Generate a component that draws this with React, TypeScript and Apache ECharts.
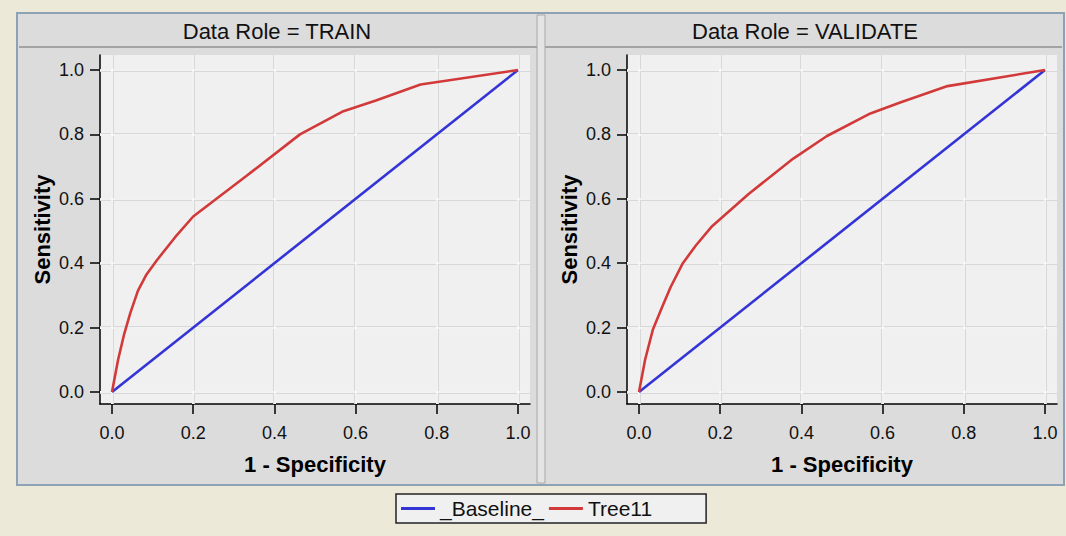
import React, { useEffect, useRef } from "react";
import * as echarts from "echarts";

const panelTitles = ["Data Role = TRAIN", "Data Role = VALIDATE"];
const tickValues = [0, 0.2, 0.4, 0.6, 0.8, 1.0];

const baselineX = [0, 1];
const baselineY = [0, 1];

const trainX = [0, 0.015, 0.03, 0.045, 0.064, 0.085, 0.111, 0.155, 0.2, 0.33, 0.463, 0.57, 0.65, 0.76, 1.0];
const trainY = [0, 0.1, 0.18, 0.245, 0.315, 0.365, 0.41, 0.48, 0.545, 0.67, 0.8, 0.872, 0.905, 0.955, 1.0];

const validateX = [0, 0.015, 0.034, 0.057, 0.078, 0.108, 0.14, 0.18, 0.27, 0.38, 0.463, 0.57, 0.645, 0.76, 1.0];
const validateY = [0, 0.1, 0.193, 0.264, 0.326, 0.4, 0.455, 0.515, 0.615, 0.725, 0.795, 0.865, 0.9, 0.95, 1.0];

const FONT = "'Liberation Sans', Arial, sans-serif";
const BLUE = "#3434D6";
const RED = "#D23A3A";

function pairs(xs: number[], ys: number[]) {
  return xs.map((x, i) => [x, ys[i]]);
}

export default function App() {
  const ref = useRef<HTMLDivElement>(null);
  useEffect(() => {
    if (!ref.current) return;
    const chart = echarts.init(ref.current, undefined, { renderer: "svg" });

    const gridLefts = [100, 627];
    const grids = gridLefts.map((l) => ({
      left: l,
      top: 55,
      width: 430,
      height: 349,
      show: true,
      backgroundColor: "#F0F0F0",
      borderWidth: 0,
    }));

    const xAxes = [0, 1].map((g) => ({
      type: "value",
      gridIndex: g,
      min: -12 / 406,
      max: 1 + 12 / 406,
      name: "1 - Specificity",
      nameLocation: "middle",
      nameGap: 49,
      nameTextStyle: { fontFamily: FONT, fontWeight: "bold", fontSize: 22, color: "#000" },
      axisLine: { show: true, onZero: false, lineStyle: { color: "#000", width: 1.5 } },
      axisTick: { show: true, length: 10, customValues: tickValues, lineStyle: { color: "#000", width: 1.5 } },
      axisLabel: {
        customValues: tickValues,
        margin: 20,
        fontFamily: FONT,
        fontSize: 18,
        color: "#111",
        formatter: (v: number) => v.toFixed(1),
      },
      splitLine: { show: false },
    }));

    const yAxes = [0, 1].map((g) => ({
      type: "value",
      gridIndex: g,
      min: -12 / 322,
      max: 1 + 15 / 322,
      name: "Sensitivity",
      nameLocation: "middle",
      nameGap: 47,
      nameTextStyle: { fontFamily: FONT, fontWeight: "bold", fontSize: 22, color: "#000" },
      axisLine: { show: true, onZero: false, lineStyle: { color: "#000", width: 1.5 } },
      axisTick: { show: true, length: 10, customValues: tickValues, lineStyle: { color: "#000", width: 1.5 } },
      axisLabel: {
        customValues: tickValues,
        margin: 16,
        fontFamily: FONT,
        fontSize: 18,
        color: "#111",
        formatter: (v: number) => v.toFixed(1),
      },
      splitLine: { show: false },
    }));

    const gridLines = (g: number, color: string, width: number, z: number) => ({
      name: "grid" + g + z,
      type: "line",
      xAxisIndex: g,
      yAxisIndex: g,
      data: [],
      silent: true,
      z,
      markLine: {
        silent: true,
        symbol: "none",
        label: { show: false },
        lineStyle: { color, width, type: "solid" },
        emphasis: { disabled: true },
        data: [
          ...tickValues.map((v) => ({ xAxis: v })),
          ...tickValues.map((v) => ({ yAxis: v })),
        ],
      },
    });

    const mkSeries = (name: string, data: number[][], g: number, color: string) => ({
      name,
      type: "line",
      xAxisIndex: g,
      yAxisIndex: g,
      data,
      symbol: "none",
      lineStyle: { color, width: 2.6 },
      itemStyle: { color },
      z: 5,
    });

    chart.setOption({
      animation: false,
      backgroundColor: "#ECE9D8",
      textStyle: { fontFamily: FONT },
      title: [
        {
          text: panelTitles[0],
          left: 277,
          top: 20,
          padding: 0,
          textAlign: "center",
          textStyle: { fontFamily: FONT, fontWeight: "normal", fontSize: 22, color: "#111" },
        },
        {
          text: panelTitles[1],
          left: 805,
          top: 20,
          padding: 0,
          textAlign: "center",
          textStyle: { fontFamily: FONT, fontWeight: "normal", fontSize: 22, color: "#111" },
        },
      ],
      graphic: [
        {
          type: "rect",
          shape: { x: 17, y: 13, width: 1047, height: 472 },
          style: { fill: "#DCDCDC", stroke: "#8EA2B6", lineWidth: 2 },
          z: -10,
          silent: true,
        },
        {
          type: "rect",
          shape: { x: 537, y: 15, width: 8, height: 468 },
          style: { fill: "#E4E4E4", stroke: "#A8A8A8", lineWidth: 1 },
          z: -9,
          silent: true,
        },
        {
          type: "line",
          shape: { x1: 19, y1: 47, x2: 537, y2: 47 },
          style: { stroke: "#A4A4A4", lineWidth: 2 },
          z: -9,
          silent: true,
        },
        {
          type: "line",
          shape: { x1: 545, y1: 47, x2: 1062, y2: 47 },
          style: { stroke: "#A4A4A4", lineWidth: 2 },
          z: -9,
          silent: true,
        },
      ],
      legend: {
        data: ["_Baseline_", "Tree11"],
        left: 396,
        top: 494,
        icon: "rect",
        backgroundColor: "#F0F0F0",
        borderColor: "#222",
        borderWidth: 1.5,
        borderRadius: 0,
        padding: [4, 54, 4, 5],
        itemWidth: 34,
        itemHeight: 3,
        itemGap: 5,
        textStyle: { fontFamily: FONT, fontSize: 21, color: "#111" },
      },
      grid: grids,
      xAxis: xAxes,
      yAxis: yAxes,
      series: [
        gridLines(0, "#D8D8D8", 3, 1),
        gridLines(0, "#FAFAFA", 1.5, 2),
        gridLines(1, "#D8D8D8", 3, 1),
        gridLines(1, "#FAFAFA", 1.5, 2),
        mkSeries("_Baseline_", pairs(baselineX, baselineY), 0, BLUE),
        mkSeries("Tree11", pairs(trainX, trainY), 0, RED),
        mkSeries("_Baseline_", pairs(baselineX, baselineY), 1, BLUE),
        mkSeries("Tree11", pairs(validateX, validateY), 1, RED),
      ],
    });
    return () => chart.dispose();
  }, []);

  return (
    <div
      ref={ref}
      style={{ position: "absolute", left: 0, top: 0, width: 1066, height: 536 }}
    />
  );
}
